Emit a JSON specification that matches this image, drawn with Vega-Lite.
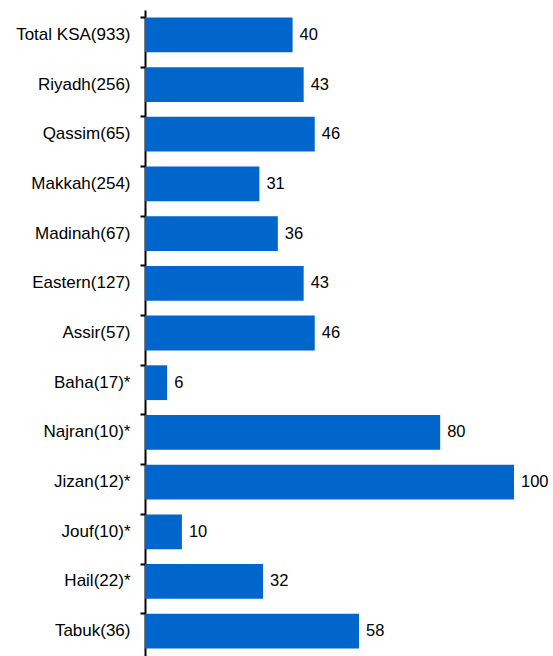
{
  "$schema": "https://vega.github.io/schema/vega-lite/v6.json",
  "autosize": "none",
  "width": 408,
  "height": 646,
  "padding": {"left": 145, "top": 10, "right": 0, "bottom": 0},
  "background": "white",
  "config": {"view": {"stroke": null}, "font": "Liberation Sans"},
  "data": {"values": [
    {"region": "Total KSA(933)", "value": 40},
    {"region": "Riyadh(256)", "value": 43},
    {"region": "Qassim(65)", "value": 46},
    {"region": "Makkah(254)", "value": 31},
    {"region": "Madinah(67)", "value": 36},
    {"region": "Eastern(127)", "value": 43},
    {"region": "Assir(57)", "value": 46},
    {"region": "Baha(17)*", "value": 6},
    {"region": "Najran(10)*", "value": 80},
    {"region": "Jizan(12)*", "value": 100},
    {"region": "Jouf(10)*", "value": 10},
    {"region": "Hail(22)*", "value": 32},
    {"region": "Tabuk(36)", "value": 58}
  ]},
  "encoding": {
    "y": {"field": "region", "type": "nominal", "sort": null,
      "scale": {"paddingInner": 0.3, "paddingOuter": 0.15},
      "axis": {"title": null, "bandPosition": 0, "domainColor": "black", "domainWidth": 2,
        "tickColor": "black", "tickWidth": 2, "tickSize": 5, "labelPadding": 10,
        "labelFontSize": 17, "labelColor": "black", "labelFont": "Liberation Sans"}},
    "x": {"field": "value", "type": "quantitative",
      "scale": {"domain": [0, 110.57], "nice": false, "zero": true}, "axis": null}
  },
  "layer": [
    {"mark": {"type": "bar", "color": "#0066CC"}},
    {"mark": {"type": "text", "align": "left", "baseline": "middle", "dx": 7, "fontSize": 16.5, "color": "black", "font": "Liberation Sans"},
     "encoding": {"text": {"field": "value", "type": "quantitative"}}}
  ]
}
